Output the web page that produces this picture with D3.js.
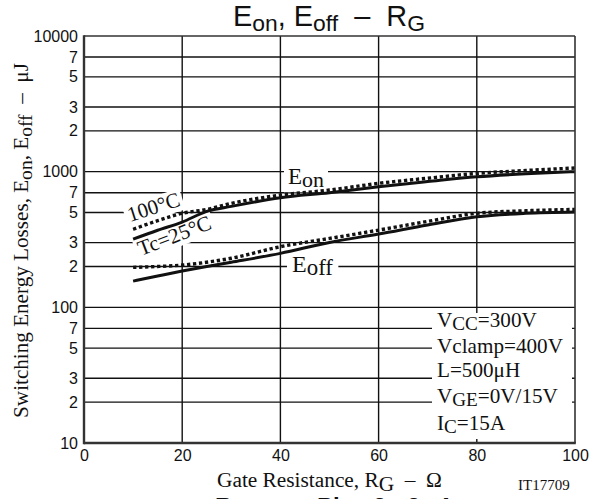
<!DOCTYPE html>
<html><head><meta charset="utf-8">
<script src="https://cdn.jsdelivr.net/npm/d3@7"></script>
<style>
body{margin:0;background:#fff}
svg{display:block}
text{white-space:pre}
</style></head><body>
<svg id="c" width="598" height="499"></svg>
<script>
// ---- data ----
const rg      = [10, 15, 20, 25, 30, 40, 50, 60, 70, 80, 90, 100];
const eon25   = [318, 370, 425, 510, 555, 642, 700, 774, 845, 917, 965, 1000];
const eon100  = [376, 435, 493, 527, 584, 672, 732, 820, 895, 971, 1020, 1064];
const eoff25  = [156, 170, 185, 200, 215, 250, 301, 347, 405, 465, 493, 504];
const eoff100 = [197, 200, 205, 215, 230, 280, 322, 371, 430, 493, 515, 527];

const xTicks = [0, 20, 40, 60, 80, 100];
const yTicks = [10,20,30,50,70,100,200,300,500,700,1000,2000,3000,5000,7000,10000];
const yTickLabels = ["10","2","3","5","7","100","2","3","5","7","1000","2","3","5","7","10000"];

const titleParts = [["E",0],["on",1],[", E",0],["off",1],["  –  R",0],["G",1]];
const yTitleParts = [["Switching Energy Losses, E",0],["on",1],[", E",0],["off",1],["  –  μJ",0]];
const xTitleParts = [["Gate Resistance, R",0],["G",1],["  –  Ω",0]];
const eonLabel = [["E",0],["on",1]];
const eoffLabel = [["E",0],["off",1]];
const conditions = [
  [["V",0],["CC",1],["=300V",0]],
  [["Vclamp=400V",0]],
  [["L=500μH",0]],
  [["V",0],["GE",1],["=0V/15V",0]],
  [["I",0],["C",1],["=15A",0]]
];
const condBaselines = [327, 353, 377, 403, 430];

// ---- setup ----
const svg = d3.select("#c");
const SANS = "'Liberation Sans', Arial, sans-serif";
const SERIF = "'Liberation Serif', 'Times New Roman', serif";
const x = d3.scaleLinear().domain([0, 100]).range([84, 575]);
const y = d3.scaleLog().domain([10, 10000]).range([443, 36]);

function rich(sel, parts, size, subSize, shift) {
  parts.forEach(([t, s], i) => {
    const prev = i > 0 ? parts[i-1][1] : 0;
    let dy = 0;
    if (s && !prev) dy = shift; else if (!s && prev) dy = -shift;
    sel.append("tspan").attr("dy", dy).attr("data-fs", s ? subSize : size)
      .style("font-size", (s ? subSize : size) + "px").text(t);
  });
  return sel;
}
// scale a rich text so its advance width matches the width measured on the reference
function fit(sel, target) {
  const w = sel.node().getComputedTextLength();
  const k = target / w;
  sel.selectAll("tspan").each(function() {
    const t = d3.select(this);
    t.style("font-size", (+t.attr("data-fs") * k) + "px").attr("dy", +t.attr("dy") * k);
  });
  return k;
}

// ---- grid ----
const grid = svg.append("g").attr("stroke", "#111").attr("stroke-width", 1.4);
grid.selectAll("line.v").data(xTicks.filter(d => d > 0 && d < 100)).join("line")
  .attr("x1", d => x(d)).attr("x2", d => x(d)).attr("y1", y(10000)).attr("y2", y(10));
grid.selectAll("line.h").data(yTicks.filter(d => d > 10 && d < 10000)).join("line")
  .attr("y1", d => y(d)).attr("y2", d => y(d)).attr("x1", x(0)).attr("x2", x(100));

// ---- axes ----
const ya = svg.append("g").attr("transform", `translate(${x(0)},0)`)
  .call(d3.axisLeft(y).tickValues(yTicks).tickFormat((d, i) => yTickLabels[i]).tickSize(0).tickPadding(6));
ya.select(".domain").remove();
ya.selectAll("text").style("font-family", SANS).style("font-size", "16px").attr("fill", "#111");

const xa = svg.append("g").attr("transform", `translate(0,${y(10)})`)
  .call(d3.axisBottom(x).tickValues(xTicks).tickFormat(d3.format("d")).tickSize(0).tickPadding(7));
xa.select(".domain").remove();
xa.selectAll("text").style("font-family", SANS).style("font-size", "16px").attr("fill", "#111");

// ---- labels with white backgrounds ----
function boxedLabel(tx, ty, angle, parts, size, subSize, shift, pad, target) {
  const g = svg.append("g").attr("transform", `translate(${tx},${ty}) rotate(${angle})`);
  const r = g.append("rect").attr("fill", "#fff");
  const t = g.append("text").attr("x", 0).attr("y", 0)
    .style("font-family", SERIF).attr("fill", "#111");
  rich(t, parts, size, subSize, shift);
  if (target) fit(t, target);
  const bb = t.node().getBBox();
  r.attr("x", bb.x - pad).attr("y", bb.y + 2).attr("width", bb.width + 2*pad).attr("height", bb.height - 2);
  return g;
}
boxedLabel(288, 184, 0, eonLabel, 21, 20, 3, 4, 36);
boxedLabel(292, 272, 0, eoffLabel, 21, 20, 3, 5, 41);
boxedLabel(130, 222, -18, [["100°C",0]], 20.5, 20.5, 0, 3, 54);
boxedLabel(141, 256, -21, [["Tc=25°C",0]], 20.5, 20.5, 0, 3, 77);

// conditions block
const cg = svg.append("g");
const cr = cg.append("rect").attr("fill", "#fff");
const condTexts = conditions.map((parts, i) => {
  const t = cg.append("text").attr("x", 437).attr("y", condBaselines[i])
    .style("font-family", SERIF).attr("fill", "#111");
  return rich(t, parts, 21, 19, 3);
});
{
  const k = 126 / condTexts[1].node().getComputedTextLength();
  condTexts.forEach(t => t.selectAll("tspan").each(function() {
    const s = d3.select(this);
    s.style("font-size", (+s.attr("data-fs") * k) + "px").attr("dy", +s.attr("dy") * k);
  }));
  const bb = cg.node().getBBox();
  cr.attr("x", bb.x - 5).attr("y", 313).attr("width", x(100) - 3 - (bb.x - 5)).attr("height", y(10) - 4 - 313);
}

// ---- curves ----
const line = d3.line().x(d => x(d[0])).y(d => y(d[1])).curve(d3.curveMonotoneX);
const series = [
  {v: eon25, dash: null}, {v: eon100, dash: "3.3,2.7"},
  {v: eoff25, dash: null}, {v: eoff100, dash: "3.3,2.7"}
];
svg.append("g").selectAll("path").data(series).join("path")
  .attr("d", s => line(rg.map((r, i) => [r, s.v[i]])))
  .attr("fill", "none").attr("stroke", "#111")
  .attr("stroke-width", s => s.dash ? 3.4 : 3)
  .attr("stroke-dasharray", s => s.dash);

// ---- frame ----
const fr = svg.append("g").attr("stroke", "#333");
fr.append("line").attr("x1", x(0)).attr("x2", x(100)).attr("y1", y(10000)).attr("y2", y(10000)).attr("stroke-width", 1.6);
fr.append("line").attr("x1", x(100)).attr("x2", x(100)).attr("y1", y(10000)).attr("y2", y(10)).attr("stroke-width", 1.6);
fr.append("line").attr("x1", x(0)).attr("x2", x(0)).attr("y1", y(10000) - 0.8).attr("y2", y(10) + 1.2).attr("stroke-width", 2.4);
fr.append("line").attr("x1", x(0)).attr("x2", x(100) + 0.8).attr("y1", y(10)).attr("y2", y(10)).attr("stroke-width", 2.4);

// ---- titles ----
const tt = svg.append("text").attr("x", 329).attr("y", 26).attr("text-anchor", "middle")
  .style("font-family", SANS).attr("fill", "#111");
rich(tt, titleParts, 26.5, 21, 5);
fit(tt, 192);

const yt = svg.append("text").attr("transform", "translate(28,240.5) rotate(-90)").attr("text-anchor", "middle")
  .style("font-family", SERIF).attr("fill", "#111");
rich(yt, yTitleParts, 20, 18.5, 4);
fit(yt, 355);

const xt = svg.append("text").attr("x", 329.5).attr("y", 487).attr("text-anchor", "middle")
  .style("font-family", SERIF).attr("fill", "#111");
rich(xt, xTitleParts, 21, 21, 4);
fit(xt, 225);

svg.append("text").attr("x", 518).attr("y", 490).style("font-family", SERIF).style("font-size", "15px")
  .attr("fill", "#111").text("IT17709");

// partially cropped caption at the bottom edge
const cap = svg.append("text").attr("y", 515).style("font-family", SANS).style("font-weight", "bold")
  .style("font-size", "24px").attr("fill", "#111");
[["Rev.", 215], ["Pin", 317], ["2", 373], ["2", 407], ["4", 437]].forEach(([t, px]) =>
  cap.append("tspan").attr("x", px).text(t));
</script>
</body></html>
